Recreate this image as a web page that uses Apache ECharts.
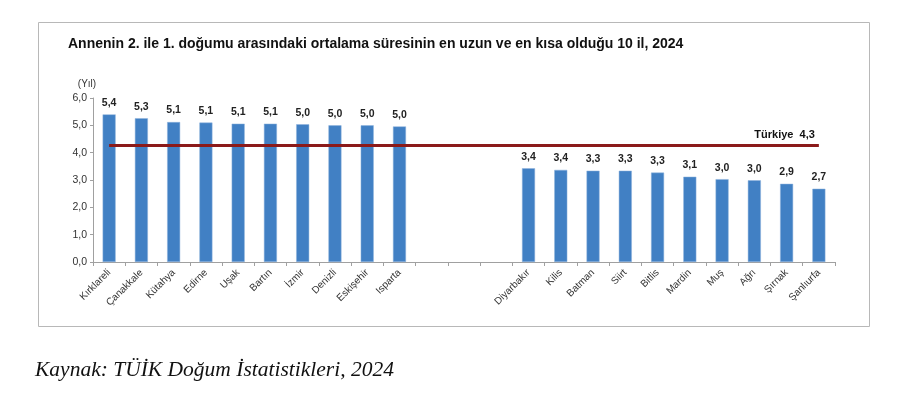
<!DOCTYPE html>
<html>
<head>
<meta charset="utf-8">
<script src="https://cdn.jsdelivr.net/npm/echarts@6/dist/echarts.min.js"></script>
<style>
html,body{margin:0;padding:0;background:#fff;}
#c{width:900px;height:413px;}
</style>
</head>
<body>
<div id="c"></div>
<script>
// Data
const longest = ['Kırklareli','Çanakkale','Kütahya','Edirne','Uşak','Bartın','İzmir','Denizli','Eskişehir','Isparta'];
const longestValues = [5.40, 5.26, 5.12, 5.10, 5.06, 5.06, 5.04, 5.00, 5.00, 4.96];
const shortest = ['Diyarbakır','Kilis','Batman','Siirt','Bitlis','Mardin','Muş','Ağrı','Şırnak','Şanlıurfa'];
const shortestValues = [3.43, 3.37, 3.34, 3.34, 3.27, 3.12, 3.03, 2.99, 2.86, 2.68];
const gapCategories = ['', '', ''];
const turkiye = 4.28;
const turkiyeLabel = 'Türkiye  4,3';
const yTicks = [0, 1, 2, 3, 4, 5, 6];

const categories = longest.concat(gapCategories, shortest);
const values = longestValues.concat(gapCategories.map(() => null), shortestValues);

const fmt = v => v.toFixed(1).replace('.', ',');

const chart = echarts.init(document.getElementById('c'));
chart.setOption({
  animation: false,
  backgroundColor: '#fff',
  title: {
    text: 'Annenin 2. ile 1. doğumu arasındaki ortalama süresinin en uzun ve en kısa olduğu 10 il, 2024',
    left: 63, top: 32,
    textStyle: {fontFamily: 'Liberation Sans, Arial', fontSize: 14, fontWeight: 'bold', color: '#111'}
  },
  graphic: [
    {type: 'rect', left: 36, top: 20, shape: {width: 831, height: 304},
     style: {fill: 'none', stroke: '#b8b8b8', lineWidth: 1}, silent: true, z: -1},
    {type: 'text', left: 35, top: 359,
     style: {text: 'Kaynak: TÜİK Doğum İstatistikleri, 2024', font: 'italic 21.5px "Liberation Serif", "Times New Roman", serif', fill: '#111'}}
  ],
  grid: {left: 93, right: 65, top: 98, bottom: 151},
  xAxis: {
    type: 'category',
    data: categories,
    axisLine: {lineStyle: {color: '#a0a0a0'}},
    axisTick: {show: true, length: 4, lineStyle: {color: '#a0a0a0'}},
    axisLabel: {rotate: 45, interval: 0, margin: 9, fontFamily: 'Liberation Sans, Arial', fontSize: 10, color: '#333'}
  },
  yAxis: {
    type: 'value',
    min: yTicks[0], max: yTicks[yTicks.length - 1], interval: 1,
    name: '(Yıl)',
    nameLocation: 'end',
    nameGap: 9,
    nameTextStyle: {fontFamily: 'Liberation Sans, Arial', fontSize: 10, color: '#333', align: 'center', padding: [0, 0, 0, -12]},
    axisLine: {show: true, lineStyle: {color: '#a0a0a0'}},
    axisTick: {show: true, length: 3, lineStyle: {color: '#a0a0a0'}},
    splitLine: {show: false},
    axisLabel: {formatter: v => fmt(v), margin: 6, fontFamily: 'Liberation Sans, Arial', fontSize: 10.5, color: '#333'}
  },
  series: [
    {
      type: 'bar',
      data: values,
      barWidth: 13,
      itemStyle: {color: '#4180c4', borderColor: '#8fb3dd', borderWidth: 0.5},
      label: {
        show: true, position: 'top', distance: 6,
        formatter: p => p.value == null ? '' : fmt(p.value),
        fontFamily: 'Liberation Sans, Arial', fontSize: 10.5, fontWeight: 'bold', color: '#222'
      },
      markLine: {
        silent: true,
        symbol: ['none', 'none'],
        lineStyle: {color: '#8b1a1a', width: 3, type: 'solid'},
        label: {
          show: true, position: 'insideEndTop', distance: [4, 5],
          formatter: turkiyeLabel,
          fontFamily: 'Liberation Sans, Arial', fontSize: 11, fontWeight: 'bold', color: '#111'
        },
        data: [[{coord: [0, turkiye]}, {coord: [categories.length - 1, turkiye]}]],
        z: 5
      }
    }
  ]
});
</script>
</body>
</html>
